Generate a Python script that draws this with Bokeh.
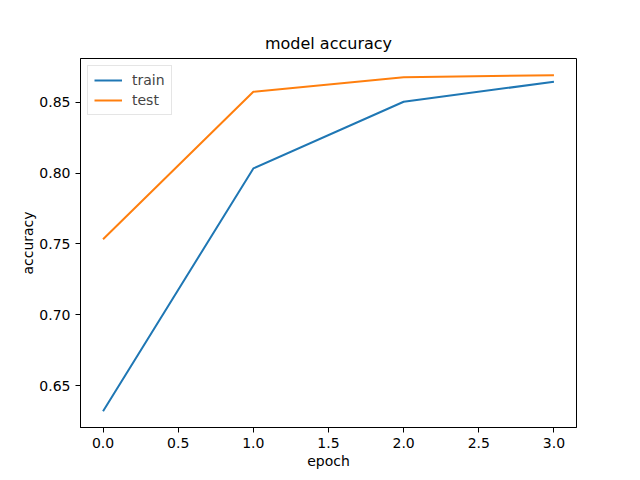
from bokeh.plotting import figure
from bokeh.models import FixedTicker, Range1d, Legend, LegendItem, PrintfTickFormatter
from bokeh.embed import file_html
from bokeh.resources import INLINE

epochs = [0, 1, 2, 3]
train_acc = [0.6320, 0.8033, 0.8503, 0.8644]
test_acc = [0.7533, 0.8573, 0.8676, 0.8690]
x_ticks = [0.0, 0.5, 1.0, 1.5, 2.0, 2.5, 3.0]
y_ticks = [0.65, 0.70, 0.75, 0.80, 0.85]

FONT = "DejaVu Sans"

p = figure(width=632, height=472, output_backend="svg", toolbar_location=None,
           frame_width=496, frame_height=369,
           x_range=Range1d(-0.15, 3.15), y_range=Range1d(0.6206, 0.8808),
           title="model accuracy")
p.min_border_left = 80
p.min_border_top = 58
p.min_border_right = 56
p.min_border_bottom = 45

p.title.align = "center"
p.title.text_font = FONT
p.title.text_font_size = "16px"
p.title.text_font_style = "normal"
p.title.text_color = "black"
p.title.standoff = 12

p.xgrid.visible = False
p.ygrid.visible = False
p.outline_line_color = "black"
p.outline_line_width = 1
p.background_fill_color = "white"
p.border_fill_color = "white"

for ax in (p.xaxis[0], p.yaxis[0]):
    ax.major_tick_in = 0
    ax.major_tick_out = 5
    ax.minor_tick_in = 0
    ax.minor_tick_out = 0
    ax.axis_line_color = "black"
    ax.major_tick_line_color = "black"
    ax.major_label_text_font = FONT
    ax.major_label_text_font_size = "14px"
    ax.major_label_text_color = "black"
    ax.axis_label_text_font = FONT
    ax.axis_label_text_font_size = "14px"
    ax.axis_label_text_font_style = "normal"
    ax.axis_label_text_color = "black"

p.xaxis.ticker = FixedTicker(ticks=x_ticks)
p.yaxis.ticker = FixedTicker(ticks=y_ticks)
p.xaxis.formatter = PrintfTickFormatter(format="%.1f")
p.yaxis.formatter = PrintfTickFormatter(format="%.2f")
p.xaxis.axis_label = "epoch"
p.yaxis.axis_label = "accuracy"
p.xaxis.axis_label_standoff = 2
p.yaxis.axis_label_standoff = 0

r1 = p.line(epochs, train_acc, line_color="#1f77b4", line_width=2)
r2 = p.line(epochs, test_acc, line_color="#ff7f0e", line_width=2)

legend = Legend(items=[LegendItem(label="train", renderers=[r1]),
                       LegendItem(label="test", renderers=[r2])],
                location="top_left")
legend.label_text_font = FONT
legend.label_text_font_size = "14px"
legend.border_line_color = "#cccccc"
legend.border_line_width = 1
legend.background_fill_alpha = 0.8
legend.glyph_width = 28
legend.glyph_height = 14
legend.label_standoff = 10
legend.spacing = 4
legend.padding = 6
legend.margin = 7
p.add_layout(legend)

open("out.html", "w").write(file_html(p, INLINE))
